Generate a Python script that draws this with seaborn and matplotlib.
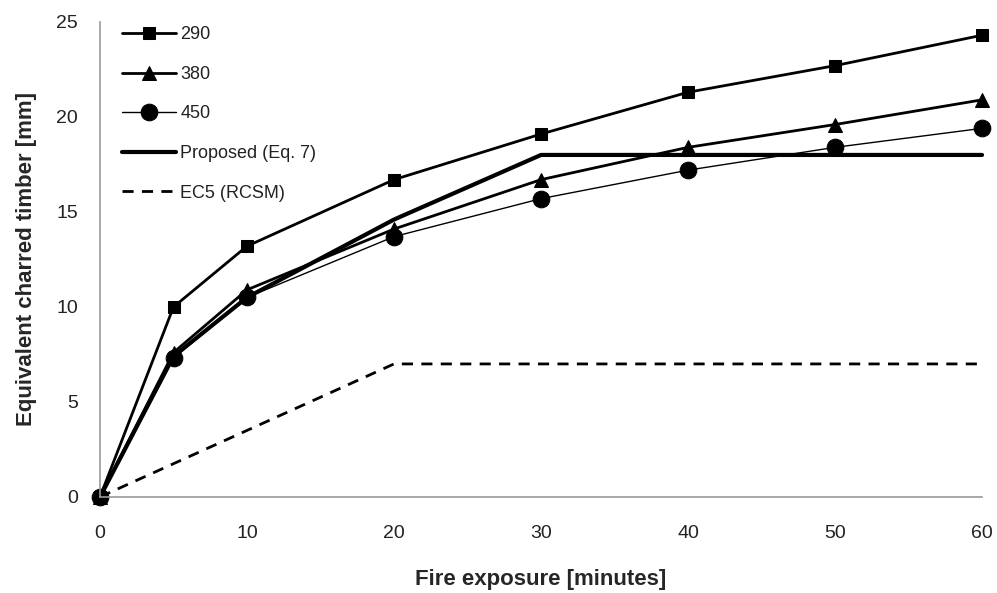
import numpy as np
import pandas as pd
import matplotlib
matplotlib.use("Agg")
import matplotlib.pyplot as plt
import seaborn as sns

# Fire exposure [minutes]
minutes = [0, 5, 10, 20, 30, 40, 50, 60]

# Equivalent charred timber [mm] per density
char_290 = [0, 10.0, 13.2, 16.7, 19.1, 21.3, 22.7, 24.3]
char_380 = [0, 7.6, 10.9, 14.1, 16.7, 18.4, 19.6, 20.9]
char_450 = [0, 7.3, 10.5, 13.7, 15.7, 17.2, 18.4, 19.4]

# Model curves
proposed_x = [0, 5, 10, 20, 30, 40, 50, 60]
proposed_y = [0, 7.4, 10.5, 14.6, 18.0, 18.0, 18.0, 18.0]
ec5_x = [0, 20, 60]
ec5_y = [0, 7.0, 7.0]

sns.set_theme(style="white")
plt.rcParams['font.family'] = ['Liberation Sans', 'DejaVu Sans']

fig, ax = plt.subplots(figsize=(9.97, 5.93), dpi=100)
fig.subplots_adjust(left=0.1003, right=0.985, bottom=0.162, top=0.963)

tests = pd.DataFrame({"x": minutes, "290": char_290, "380": char_380, "450": char_450})

sns.lineplot(data=tests, x="x", y="290", ax=ax, color="black", lw=2,
             marker="s", markersize=8.5, markeredgecolor="black", label="290", clip_on=False)
sns.lineplot(data=tests, x="x", y="380", ax=ax, color="black", lw=2,
             marker="^", markersize=10, markeredgecolor="black", label="380", clip_on=False)
sns.lineplot(data=tests, x="x", y="450", ax=ax, color="black", lw=1,
             marker="o", markersize=12, markeredgecolor="black", label="450", clip_on=False)
sns.lineplot(x=proposed_x, y=proposed_y, ax=ax, color="black", lw=3,
             label="Proposed (Eq. 7)", clip_on=False)
sns.lineplot(x=ec5_x, y=ec5_y, ax=ax, color="black", lw=2,
             linestyle=(0, (4, 3)), label="EC5 (RCSM)", clip_on=False)

ax.set_xlim(0, 60)
ax.set_ylim(0, 25)
ax.set_xticks(range(0, 61, 10))
ax.set_yticks(range(0, 26, 5))
for s in ["top", "right"]:
    ax.spines[s].set_visible(False)
for s in ["left", "bottom"]:
    ax.spines[s].set_color("#999999")
    ax.spines[s].set_linewidth(1.2)
ax.tick_params(axis="both", direction="out", length=6, width=1, color="#999999",
               labelsize=14, labelcolor="#222222")
ax.tick_params(axis="x", pad=14)
ax.tick_params(axis="y", pad=10)

ax.set_xlabel("Fire exposure [minutes]", fontsize=16, fontweight="bold", labelpad=20)
ax.set_ylabel("Equivalent charred timber [mm]", fontsize=16, fontweight="bold", labelpad=14)

leg = ax.legend(loc="upper left", frameon=False, fontsize=13, handlelength=3.0,
                handletextpad=0.25, labelspacing=1.25, bbox_to_anchor=(0.006, 1.025))
for t in leg.get_texts():
    t.set_color("#222222")

fig.savefig("out.png", dpi=100)
